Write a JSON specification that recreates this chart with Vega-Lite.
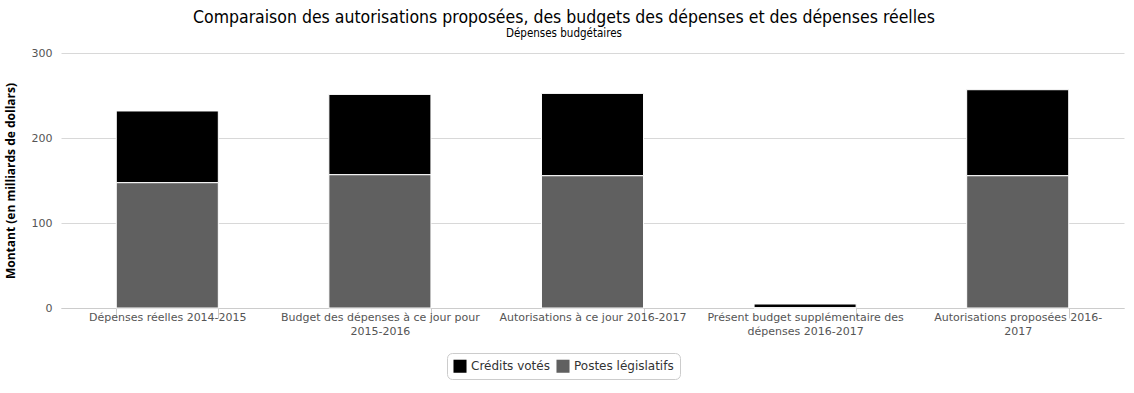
{
  "$schema": "https://vega.github.io/schema/vega-lite/v6.json",
  "width": 1063,
  "height": 255,
  "padding": {"left": 4, "top": 9, "right": 4, "bottom": 4},
  "background": "white",
  "title": {
    "text": "Comparaison des autorisations proposées, des budgets des dépenses et des dépenses réelles",
    "subtitle": "Dépenses budgétaires",
    "frame": "bounds",
    "anchor": "middle",
    "font": "DejaVu Sans Condensed",
    "fontSize": 17.5,
    "fontWeight": "normal",
    "color": "#000000",
    "subtitleFont": "DejaVu Sans Condensed",
    "subtitleFontSize": 11.5,
    "subtitleColor": "#000000",
    "subtitlePadding": 1,
    "offset": 8
  },
  "data": {
    "values": [
      {"categorie": "Dépenses réelles 2014-2015", "serie": "Crédits votés", "montant": 84.4},
      {"categorie": "Dépenses réelles 2014-2015", "serie": "Postes législatifs", "montant": 147.4},
      {"categorie": "Budget des dépenses à ce jour pour 2015-2016", "serie": "Crédits votés", "montant": 94.5},
      {"categorie": "Budget des dépenses à ce jour pour 2015-2016", "serie": "Postes législatifs", "montant": 156.8},
      {"categorie": "Autorisations à ce jour 2016-2017", "serie": "Crédits votés", "montant": 96.9},
      {"categorie": "Autorisations à ce jour 2016-2017", "serie": "Postes législatifs", "montant": 155.6},
      {"categorie": "Présent budget supplémentaire des dépenses 2016-2017", "serie": "Crédits votés", "montant": 4.5},
      {"categorie": "Présent budget supplémentaire des dépenses 2016-2017", "serie": "Postes législatifs", "montant": 0.2},
      {"categorie": "Autorisations proposées 2016-2017", "serie": "Crédits votés", "montant": 101.2},
      {"categorie": "Autorisations proposées 2016-2017", "serie": "Postes législatifs", "montant": 155.6}
    ]
  },
  "mark": {"type": "bar", "stroke": "white", "strokeWidth": 1},
  "encoding": {
    "x": {
      "field": "categorie",
      "type": "nominal",
      "sort": null,
      "scale": {"paddingInner": 0.52, "paddingOuter": 0.26},
      "axis": {
        "title": null,
        "labelAngle": 0,
        "labelFont": "DejaVu Sans",
        "labelFontSize": 11,
        "labelColor": "#555555",
        "labelLimit": 220,
        "labelPadding": -7,
        "labelLineHeight": 14,
        "tickBand": "extent",
        "tickColor": "#cccccc",
        "tickSize": 10,
        "domainColor": "#cccccc",
        "labelExpr": "datum.value == 'Budget des dépenses à ce jour pour 2015-2016' ? ['Budget des dépenses à ce jour pour', '2015-2016'] : datum.value == 'Présent budget supplémentaire des dépenses 2016-2017' ? ['Présent budget supplémentaire des', 'dépenses 2016-2017'] : datum.value == 'Autorisations proposées 2016-2017' ? ['Autorisations proposées 2016-', '2017'] : datum.value"
      }
    },
    "y": {
      "field": "montant",
      "type": "quantitative",
      "aggregate": "sum",
      "stack": "zero",
      "scale": {"domain": [0, 300]},
      "axis": {
        "title": "Montant (en milliards de dollars)",
        "titleFont": "Open Sans",
        "titleFontSize": 12,
        "titleFontWeight": "bold",
        "titleColor": "#000000",
        "titlePadding": 14,
        "values": [0, 100, 200, 300],
        "labelFont": "DejaVu Sans",
        "labelFontSize": 11,
        "labelColor": "#555555",
        "labelPadding": 9,
        "ticks": false,
        "domain": false,
        "gridColor": "#d8d8d8"
      }
    },
    "color": {
      "field": "serie",
      "type": "nominal",
      "scale": {"domain": ["Crédits votés", "Postes législatifs"], "range": ["#000000", "#606060"]},
      "legend": {
        "title": null,
        "orient": "none",
        "legendX": 386,
        "legendY": 300,
        "direction": "horizontal",
        "symbolType": "square",
        "symbolSize": 170,
        "symbolStrokeWidth": 0,
        "labelFont": "DejaVu Sans",
        "labelFontSize": 12,
        "labelColor": "#333333",
        "strokeColor": "#cccccc",
        "cornerRadius": 5,
        "padding": 6,
        "columnPadding": 6
      }
    },
    "order": {"field": "serie", "sort": "descending"}
  },
  "config": {
    "view": {"stroke": null}
  }
}
